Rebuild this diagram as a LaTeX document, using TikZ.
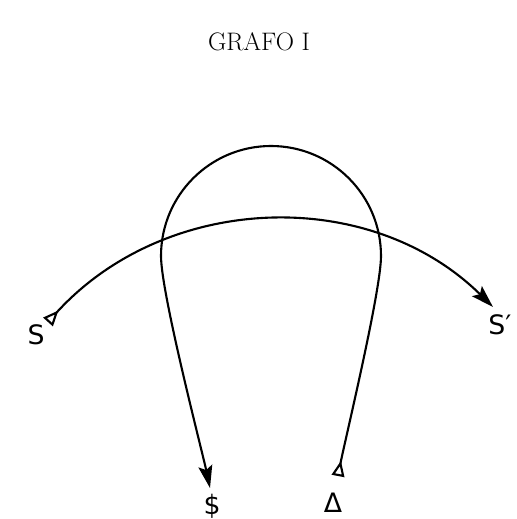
\documentclass[tikz,border=0pt]{standalone}
\usepackage{fontspec}
\setsansfont{DejaVu Sans}
\usetikzlibrary{arrows.meta}

\begin{document}
\begin{tikzpicture}[x=0.025cm, y=0.025cm,
      lbl/.style={font=\sffamily\fontsize{19}{19}\selectfont, inner sep=0pt},
      vec/.style={line width=1.5pt, {Triangle[open, reversed, length=11pt, width=9pt]}-{Stealth[length=16pt, width=10pt, inset=3pt]}}]
    \useasboundingbox (0,0) rectangle (517,519);
    \node[font=\fontsize{18}{18}\selectfont] (title) at (259,477) {GRAFO I};
    \node[lbl] (S)   at (36,184)  {S};
    \node[lbl] (Sp)  at (500,194) {S′};
    \node[lbl] (dol) at (212,13)  {\$};
    \node[lbl] (del) at (333,16)  {Δ};
    \coordinate (s0) at (48,197);
    \coordinate (s1) at (493,212);
    \coordinate (d0) at (338,43);
    \coordinate (d1) at (210,31);
    \coordinate (rt) at (381,263);
    \draw[vec] (s0) .. controls (165,326) and (369,334) .. (s1);
    \draw[vec] (d0) to[out=79, in=-90, looseness=0.4] (rt) arc[start angle=0, end angle=180, radius=110] to[out=-90, in=102, looseness=0.4] (d1);
  \end{tikzpicture}
\end{document}
